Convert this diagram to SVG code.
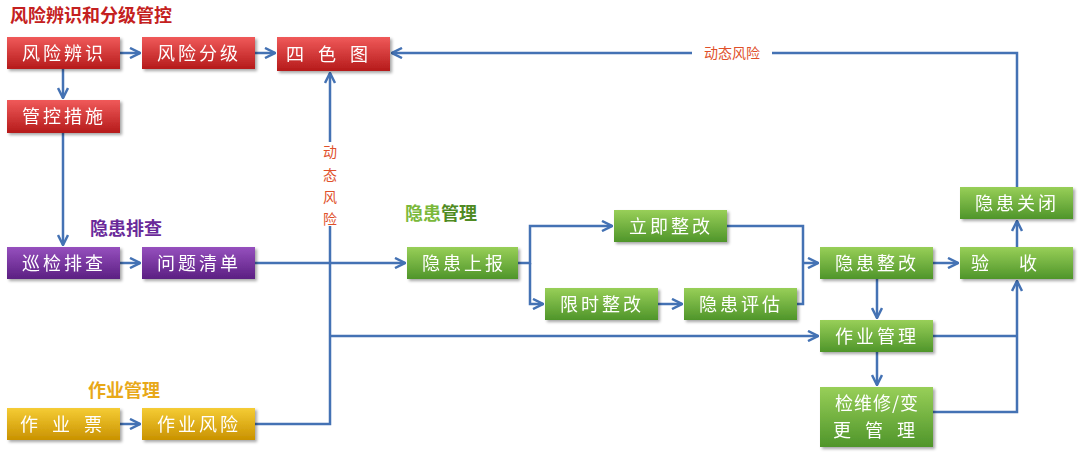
<svg xmlns="http://www.w3.org/2000/svg" width="1080" height="453" viewBox="0 0 1080 453">
<defs>
<linearGradient id="gr" x1="0" y1="0" x2="0" y2="1"><stop offset="0" stop-color="#f05a5a"/><stop offset="1" stop-color="#b51a1a"/></linearGradient>
<linearGradient id="gg" x1="0" y1="0" x2="0" y2="1"><stop offset="0" stop-color="#98cf58"/><stop offset="1" stop-color="#4f952a"/></linearGradient>
<linearGradient id="gp" x1="0" y1="0" x2="0" y2="1"><stop offset="0" stop-color="#9650be"/><stop offset="1" stop-color="#5b1f82"/></linearGradient>
<linearGradient id="gy" x1="0" y1="0" x2="0" y2="1"><stop offset="0" stop-color="#f5cc35"/><stop offset="1" stop-color="#c99200"/></linearGradient>
<filter id="sh" x="-10%" y="-20%" width="130%" height="160%"><feDropShadow dx="2" dy="2" stdDeviation="1.5" flood-color="#000" flood-opacity="0.35"/></filter>
<marker id="ar" viewBox="0 0 10 10" refX="9" refY="5" markerWidth="5" markerHeight="5" orient="auto"><path d="M1,1 L9,5 L1,9" fill="none" stroke="#4472b4" stroke-width="2"/></marker>
</defs>
<style>
.n{filter:url(#sh)}
.t{font-family:"Noto Sans CJK SC",sans-serif;font-size:18px;fill:#fff;text-anchor:middle;letter-spacing:3px}
.h{font-family:"Noto Sans CJK SC",sans-serif;font-size:18px;font-weight:bold}
.c{fill:none;stroke:#4472b4;stroke-width:2.5}
.l{font-family:"Noto Sans CJK SC",sans-serif;font-size:14px;fill:#e0502a}
</style>
<rect width="1080" height="453" fill="#fff"/>
<text class="h" x="10" y="22" fill="#c42020">风险辨识和分级管控</text>
<text class="h" x="90" y="235" fill="#6a2a9a">隐患排查</text>
<text class="h" x="88" y="397" fill="#e8a818">作业管理</text>
<text class="h" x="405" y="220" fill="#7ab83a">隐患<tspan fill="#4f8a22">管理</tspan></text>
<g id="connectors">
<path class="c" d="M120,53H140" marker-end="url(#ar)"/>
<path class="c" d="M255,53H275" marker-end="url(#ar)"/>
<path class="c" d="M63,69V98" marker-end="url(#ar)"/>
<path class="c" d="M63,133V245" marker-end="url(#ar)"/>
<path class="c" d="M120,263H140" marker-end="url(#ar)"/>
<path class="c" d="M255,263H405" marker-end="url(#ar)"/>
<path class="c" d="M120,424H140" marker-end="url(#ar)"/>
<path class="c" d="M255,424H330V73" marker-end="url(#ar)"/>
<path class="c" d="M330,336H818" marker-end="url(#ar)"/>
<path class="c" d="M518,263H530V226H612" marker-end="url(#ar)"/>
<path class="c" d="M530,263V304H543" marker-end="url(#ar)"/>
<path class="c" d="M658,304H682" marker-end="url(#ar)"/>
<path class="c" d="M727,226H803V304H797"/>
<path class="c" d="M803,263H818" marker-end="url(#ar)"/>
<path class="c" d="M933,263H958" marker-end="url(#ar)"/>
<path class="c" d="M877,279V318" marker-end="url(#ar)"/>
<path class="c" d="M877,352V385" marker-end="url(#ar)"/>
<path class="c" d="M933,336H1017"/>
<path class="c" d="M933,412H1017V281" marker-end="url(#ar)"/>
<path class="c" d="M1017,247V221" marker-end="url(#ar)"/>
<path class="c" d="M1017,187V53H392" marker-end="url(#ar)"/>
<rect x="692" y="42" width="80" height="22" fill="#fff"/>
<text class="l" x="732" y="58" text-anchor="middle">动态风险</text>
<rect x="320" y="142" width="20" height="84" fill="#fff"/>
<text class="l" x="330" y="157" text-anchor="middle">动</text>
<text class="l" x="330" y="180" text-anchor="middle">态</text>
<text class="l" x="330" y="202" text-anchor="middle">风</text>
<text class="l" x="330" y="224" text-anchor="middle">险</text>
</g>
<g id="n1" class="n"><rect x="7" y="37" width="113" height="32" fill="url(#gr)"/><text class="t" x="64" y="60">风险辨识</text></g>
<g id="n2" class="n"><rect x="142" y="37" width="113" height="32" fill="url(#gr)"/><text class="t" x="199" y="60">风险分级</text></g>
<g id="n3" class="n"><rect x="277" y="37" width="113" height="34" fill="url(#gr)"/><text class="t" x="334" y="61" style="letter-spacing:14px">四色图</text></g>
<g id="n4" class="n"><rect x="7" y="100" width="113" height="33" fill="url(#gr)"/><text class="t" x="64" y="123">管控措施</text></g>
<g id="n5" class="n"><rect x="7" y="247" width="113" height="32" fill="url(#gp)"/><text class="t" x="64" y="270">巡检排查</text></g>
<g id="n6" class="n"><rect x="142" y="247" width="113" height="32" fill="url(#gp)"/><text class="t" x="199" y="270">问题清单</text></g>
<g id="n7" class="n"><rect x="7" y="408" width="113" height="32" fill="url(#gy)"/><text class="t" x="68" y="431" style="letter-spacing:14px">作业票</text></g>
<g id="n8" class="n"><rect x="142" y="408" width="113" height="32" fill="url(#gy)"/><text class="t" x="199" y="431">作业风险</text></g>
<g id="n9" class="n"><rect x="407" y="247" width="111" height="32" fill="url(#gg)"/><text class="t" x="464" y="270">隐患上报</text></g>
<g id="n10" class="n"><rect x="614" y="210" width="113" height="32" fill="url(#gg)"/><text class="t" x="671" y="233">立即整改</text></g>
<g id="n11" class="n"><rect x="545" y="288" width="113" height="32" fill="url(#gg)"/><text class="t" x="602" y="311">限时整改</text></g>
<g id="n12" class="n"><rect x="684" y="288" width="113" height="32" fill="url(#gg)"/><text class="t" x="741" y="311">隐患评估</text></g>
<g id="n13" class="n"><rect x="820" y="247" width="113" height="32" fill="url(#gg)"/><text class="t" x="877" y="270">隐患整改</text></g>
<g id="n14" class="n"><rect x="960" y="247" width="113" height="32" fill="url(#gg)"/><text class="t" x="1019" y="270" style="letter-spacing:30px">验收</text></g>
<g id="n15" class="n"><rect x="960" y="187" width="113" height="32" fill="url(#gg)"/><text class="t" x="1017" y="210">隐患关闭</text></g>
<g id="n16" class="n"><rect x="820" y="320" width="113" height="32" fill="url(#gg)"/><text class="t" x="877" y="343">作业管理</text></g>
<g id="n17" class="n"><rect x="820" y="387" width="113" height="60" fill="url(#gg)"/><text class="t" x="877" y="410" style="letter-spacing:1px">检维修/变</text><text class="t" x="881" y="437" style="letter-spacing:14px">更管理</text></g>
</svg>
